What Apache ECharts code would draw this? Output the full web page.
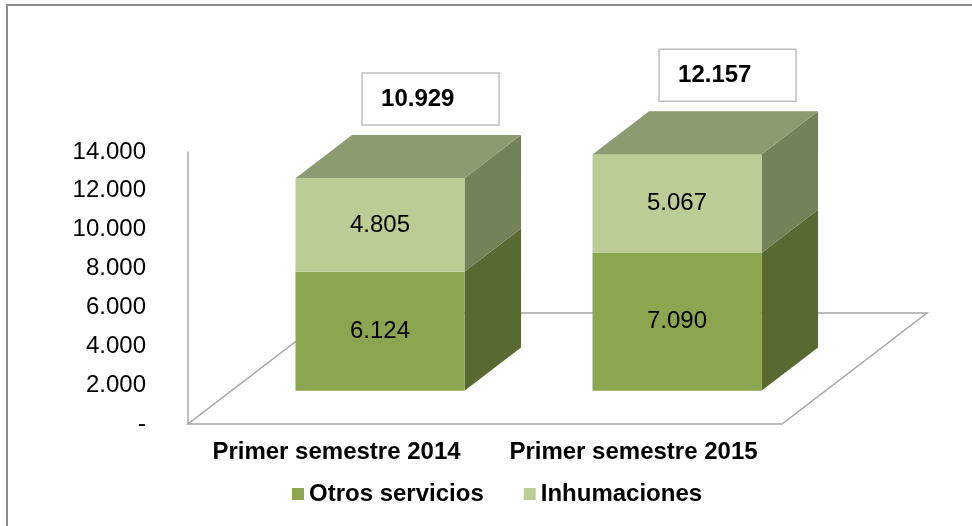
<!DOCTYPE html>
<html>
<head>
<meta charset="utf-8">
<script src="https://cdn.jsdelivr.net/npm/echarts@6/dist/echarts.min.js"></script>
<style>
  html, body { margin: 0; padding: 0; background: #fff; }
  #chart { width: 972px; height: 526px; }
</style>
</head>
<body>
<div id="chart"></div>
<script>
// datos
var categories = ['Primer semestre 2014', 'Primer semestre 2015'];
var otrosServicios = [6124, 7090];
var inhumaciones = [4805, 5067];
var totales = [10929, 12157];
var yTicks = [0, 2000, 4000, 6000, 8000, 10000, 12000, 14000];

// colores
var OTROS_FRONT = '#8ba64e';
var OTROS_SIDE = '#586a31';
var INHUM_FRONT = '#bbcc95';
var INHUM_SIDE = '#748259';
var TOP_COLOR = '#8c9b70';
var FLOOR_LINE = '#a6a6a6';
var FONT = "'Liberation Sans', Arial, sans-serif";

// efecto 3D: vector de profundidad del suelo y posicion de las barras dentro
var DEPTH = [145, -111];
var FRONT_FRAC = 0.3;
var BACK_FRAC = 0.69;
var BAR_RATIO = 0.569;

function fmt(v) {
  if (v === 0) return '-';
  return String(v).replace(/\B(?=(\d{3})+(?!\d))/g, '.');
}

var chart = echarts.init(document.getElementById('chart'));

function renderFloor(params, api) {
  var cs = params.coordSys;
  var x0 = cs.x, x1 = cs.x + cs.width, y0 = cs.y + cs.height;
  return {
    type: 'polygon',
    shape: {
      points: [
        [x0, y0], [x1, y0],
        [x1 + DEPTH[0], y0 + DEPTH[1]],
        [x0 + DEPTH[0], y0 + DEPTH[1]]
      ]
    },
    style: { fill: '#fff', stroke: FLOOR_LINE, lineWidth: 1.5 }
  };
}

function makeRenderer(front, side, isTop) {
  return function (params, api) {
    var ci = api.value(0);
    var lo = api.coord([ci, api.value(1)]);
    var hi = api.coord([ci, api.value(2)]);
    var band = api.size([1, 0])[0];
    var w = band * BAR_RATIO;
    var fx = DEPTH[0] * FRONT_FRAC, fy = DEPTH[1] * FRONT_FRAC;
    var bx = DEPTH[0] * BACK_FRAC, by = DEPTH[1] * BACK_FRAC;
    var sx = bx - fx, sy = by - fy;
    var L = lo[0] - w / 2 + fx, R = lo[0] + w / 2 + fx;
    var yb = lo[1] + fy, yt = hi[1] + fy;
    var children = [
      {
        type: 'polygon',
        shape: { points: [[R, yb], [R + sx, yb + sy], [R + sx, yt + sy], [R, yt]] },
        style: { fill: side }
      },
      {
        type: 'rect',
        shape: { x: L, y: yt, width: R - L, height: yb - yt },
        style: { fill: front }
      },
      {
        type: 'text',
        x: (L + R) / 2,
        y: (yt + yb) / 2,
        style: {
          text: fmt(api.value(2) - api.value(1)),
          fill: '#000',
          font: '24px ' + FONT,
          align: 'center',
          verticalAlign: 'middle'
        }
      }
    ];
    if (isTop) {
      children.push({
        type: 'polygon',
        shape: { points: [[L, yt], [R, yt], [R + sx, yt + sy], [L + sx, yt + sy]] },
        style: { fill: TOP_COLOR }
      });
      var bw = 137, bh = 52;
      var bcx = hi[0] + bx - 6;
      var bbot = hi[1] + by - 10;
      children.push({
        type: 'rect',
        shape: { x: bcx - bw / 2, y: bbot - bh, width: bw, height: bh },
        style: { fill: '#fff', stroke: '#bfbfbf', lineWidth: 1.5 }
      });
      children.push({
        type: 'text',
        x: bcx - bw / 2 + 19,
        y: bbot - bh / 2,
        style: {
          text: fmt(totales[params.dataIndex]),
          fill: '#000',
          font: 'bold 24px ' + FONT,
          align: 'left',
          verticalAlign: 'middle'
        }
      });
    }
    return { type: 'group', children: children };
  };
}

var otrosData = categories.map(function (c, i) { return [i, 0, otrosServicios[i]]; });
var inhumData = categories.map(function (c, i) {
  return [i, otrosServicios[i], otrosServicios[i] + inhumaciones[i]];
});

var option = {
  backgroundColor: '#fff',
  animation: false,
  textStyle: { fontFamily: FONT },
  graphic: [
    {
      type: 'rect',
      shape: { x: 7, y: 5, width: 1100, height: 700 },
      style: { fill: 'none', stroke: '#8c8c8c', lineWidth: 2 },
      silent: true
    }
  ],
  grid: { left: 188, top: 152, width: 594, height: 272 },
  legend: {
    data: ['Otros servicios', 'Inhumaciones'],
    left: 287,
    top: 477,
    icon: 'rect',
    itemWidth: 12,
    itemHeight: 12,
    itemGap: 40,
    textStyle: { fontSize: 24, fontWeight: 'bold', color: '#000', fontFamily: FONT }
  },
  xAxis: {
    type: 'category',
    data: categories,
    axisLine: { show: false },
    axisTick: { show: false },
    axisLabel: { interval: 0, fontSize: 24, fontWeight: 'bold', color: '#000', margin: 16, fontFamily: FONT }
  },
  yAxis: {
    type: 'value',
    min: yTicks[0],
    max: yTicks[yTicks.length - 1],
    interval: yTicks[1] - yTicks[0],
    axisLine: { show: true, lineStyle: { color: FLOOR_LINE, width: 1.5 } },
    axisTick: { show: false },
    splitLine: { show: false },
    axisLabel: { fontSize: 24, color: '#000', margin: 42, fontFamily: FONT, formatter: fmt }
  },
  series: [
    {
      name: 'floor',
      type: 'custom',
      renderItem: renderFloor,
      data: [[0, 0, 0]],
      silent: true,
      z: 1
    },
    {
      name: 'Otros servicios',
      type: 'custom',
      renderItem: makeRenderer(OTROS_FRONT, OTROS_SIDE, false),
      itemStyle: { color: OTROS_FRONT },
      encode: { x: 0, y: [1, 2] },
      data: otrosData,
      z: 2
    },
    {
      name: 'Inhumaciones',
      type: 'custom',
      renderItem: makeRenderer(INHUM_FRONT, INHUM_SIDE, true),
      itemStyle: { color: INHUM_FRONT },
      encode: { x: 0, y: [1, 2] },
      data: inhumData,
      z: 3
    }
  ]
};

chart.setOption(option);
</script>
</body>
</html>
